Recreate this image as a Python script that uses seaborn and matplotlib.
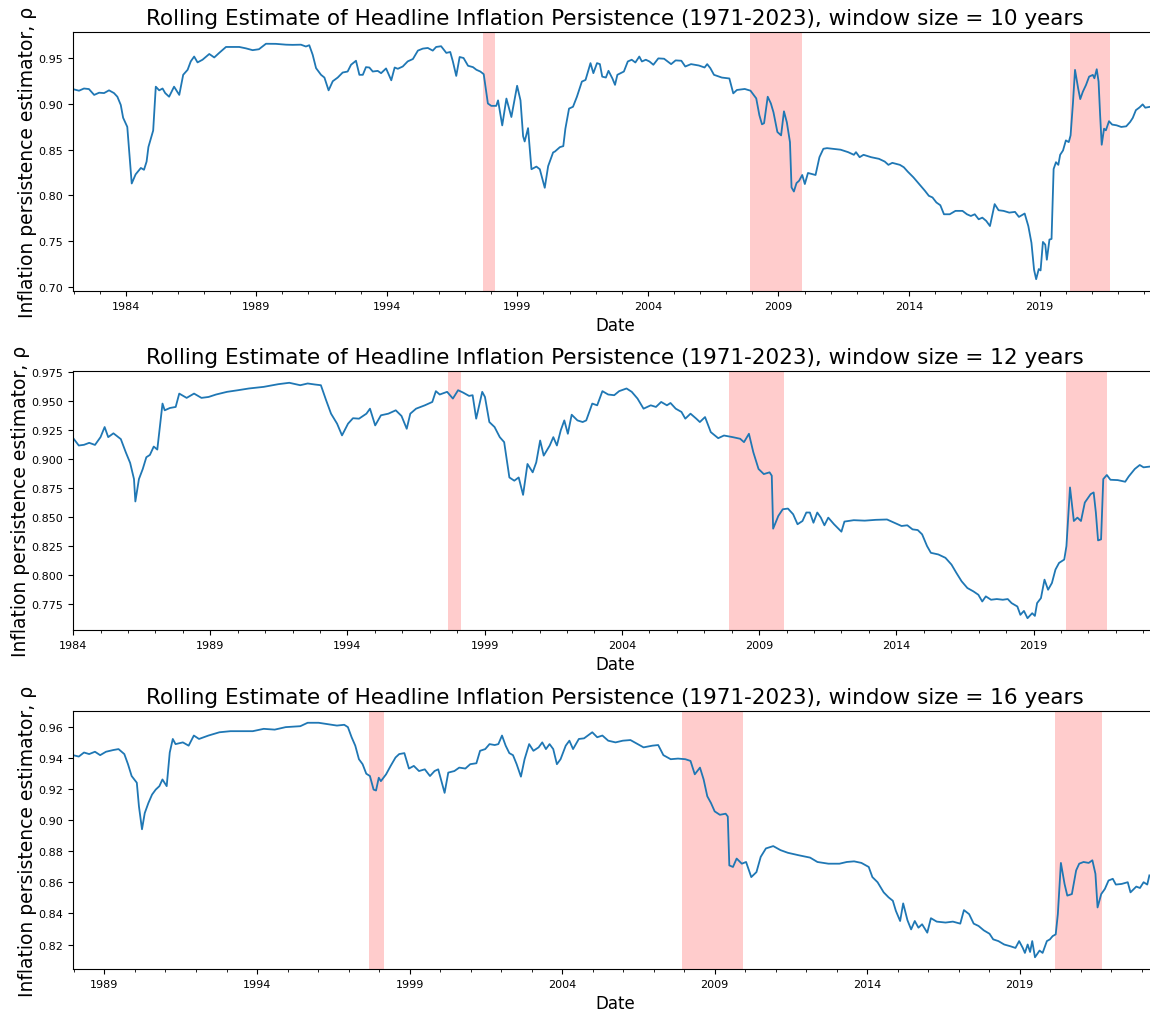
"""
Rolling estimate of headline inflation persistence for three window sizes.
"""

#Libraries
import pandas as pd
import matplotlib
matplotlib.use('Agg')
import matplotlib.pyplot as plt
import matplotlib.dates as mdates
import matplotlib.ticker as mticker
import seaborn as sns

#Global variables.

#Window sizes (years) and the first/last date of each rolling series, as decimal years.
windows = [10, 12, 16]
x_start = [1981.98, 1984.0, 1987.97]
x_end = 2023.5

#Major tick years of each panel.
tick_years = [[1984, 1989, 1994, 1999, 2004, 2009, 2014, 2019],
              [1984, 1989, 1994, 1999, 2004, 2009, 2014, 2019],
              [1989, 1994, 1999, 2004, 2009, 2014, 2019]]

#Shaded periods (decimal years).
rec_start = [1997.67, 2007.92, 2020.17]
rec_end = [1998.15, 2009.92, 2021.69]

#Window = 10 years.
years_10 = [1982.02, 1982.21, 1982.40, 1982.59, 1982.79, 1982.98, 1983.17, 1983.36, 1983.55, 1983.68,
            1983.81, 1983.90, 1984.06, 1984.23, 1984.38, 1984.58, 1984.70, 1984.80, 1984.87, 1985.05,
            1985.15, 1985.28, 1985.41, 1985.51, 1985.66, 1985.85, 1986.05, 1986.20, 1986.37, 1986.49,
            1986.62, 1986.75, 1986.94, 1987.20, 1987.39, 1987.58, 1987.84, 1988.10, 1988.35, 1988.60,
            1988.86, 1989.10, 1989.37, 1989.75, 1990.14, 1990.39, 1990.71, 1990.90, 1991.03, 1991.16,
            1991.29, 1991.48, 1991.61, 1991.77, 1991.93, 1992.12, 1992.31, 1992.50, 1992.63, 1992.82,
            1992.95, 1993.08, 1993.20, 1993.33, 1993.46, 1993.65, 1993.78, 1993.97, 1994.17, 1994.30,
            1994.42, 1994.61, 1994.80, 1995.00, 1995.19, 1995.38, 1995.57, 1995.76, 1995.89, 1996.08,
            1996.28, 1996.43, 1996.53, 1996.66, 1996.79, 1996.94, 1997.11, 1997.30, 1997.43, 1997.58,
            1997.71, 1997.87, 1998.00, 1998.19, 1998.26, 1998.42, 1998.58, 1998.77, 1998.99, 1999.12,
            1999.22, 1999.28, 1999.41, 1999.54, 1999.73, 1999.86, 2000.05, 2000.18, 2000.37, 2000.44,
            2000.63, 2000.76, 2000.84, 2000.98, 2001.13, 2001.28, 2001.47, 2001.61, 2001.80, 2001.91,
            2002.05, 2002.16, 2002.25, 2002.39, 2002.49, 2002.64, 2002.74, 2002.83, 2003.08, 2003.23,
            2003.38, 2003.52, 2003.67, 2003.77, 2003.92, 2004.06, 2004.21, 2004.40, 2004.62, 2004.89,
            2005.06, 2005.28, 2005.43, 2005.65, 2005.95, 2006.17, 2006.27, 2006.39, 2006.53, 2006.83,
            2007.12, 2007.27, 2007.41, 2007.71, 2007.93, 2008.15, 2008.27, 2008.37, 2008.45, 2008.59,
            2008.71, 2008.81, 2008.96, 2009.10, 2009.21, 2009.32, 2009.44, 2009.50, 2009.59, 2009.69,
            2009.79, 2009.91, 2010.01, 2010.13, 2010.42, 2010.57, 2010.72, 2010.86, 2011.09, 2011.38,
            2011.67, 2011.89, 2011.97, 2012.11, 2012.26, 2012.55, 2012.85, 2013.07, 2013.21, 2013.36,
            2013.65, 2013.80, 2013.95, 2014.17, 2014.39, 2014.61, 2014.76, 2014.90, 2015.05, 2015.20,
            2015.34, 2015.56, 2015.78, 2016.05, 2016.22, 2016.37, 2016.52, 2016.67, 2016.81, 2016.96,
            2017.10, 2017.28, 2017.43, 2017.62, 2017.84, 2018.06, 2018.21, 2018.43, 2018.57, 2018.69,
            2018.79, 2018.87, 2018.97, 2019.04, 2019.13, 2019.22, 2019.28, 2019.38, 2019.46, 2019.54,
            2019.63, 2019.72, 2019.79, 2019.90, 2020.01, 2020.12, 2020.19, 2020.28, 2020.36, 2020.48,
            2020.56, 2020.66, 2020.78, 2020.90, 2021.04, 2021.10, 2021.19, 2021.26, 2021.32, 2021.38,
            2021.47, 2021.54, 2021.66, 2021.78, 2021.95, 2022.13, 2022.32, 2022.47, 2022.57, 2022.69,
            2022.83, 2022.95, 2023.05, 2023.24]
rho_10 = [0.916, 0.9146, 0.917, 0.9164, 0.910, 0.9124, 0.912, 0.915, 0.912, 0.908,
          0.899, 0.885, 0.875, 0.813, 0.823, 0.830, 0.828, 0.837, 0.853, 0.871,
          0.919, 0.915, 0.917, 0.912, 0.908, 0.919, 0.910, 0.932, 0.9375, 0.9467,
          0.952, 0.9456, 0.9485, 0.9548, 0.951, 0.956, 0.9625, 0.9625, 0.9625, 0.961,
          0.959, 0.960, 0.966, 0.9659, 0.965, 0.9648, 0.965, 0.963, 0.9644, 0.954,
          0.9393, 0.932, 0.929, 0.915, 0.925, 0.929, 0.9345, 0.9356, 0.943, 0.9474,
          0.932, 0.932, 0.9404, 0.940, 0.9356, 0.9363, 0.9338, 0.939, 0.926, 0.940,
          0.9386, 0.9411, 0.9467, 0.9493, 0.9585, 0.9607, 0.9614, 0.9585, 0.9625, 0.9633,
          0.956, 0.957, 0.9467, 0.9308, 0.9515, 0.9504, 0.9419, 0.9404, 0.9375, 0.9356,
          0.9327, 0.9006, 0.898, 0.898, 0.904, 0.8766, 0.906, 0.8858, 0.920, 0.904,
          0.8648, 0.859, 0.8736, 0.8286, 0.8315, 0.8286, 0.8083, 0.832, 0.847, 0.848,
          0.8528, 0.8539, 0.873, 0.895, 0.897, 0.908, 0.9246, 0.9264, 0.9448, 0.9338,
          0.9448, 0.9437, 0.930, 0.929, 0.9364, 0.928, 0.921, 0.932, 0.9356, 0.9466,
          0.9485, 0.9455, 0.952, 0.9466, 0.9485, 0.9466, 0.943, 0.950, 0.9496, 0.9437,
          0.9478, 0.9474, 0.9411, 0.9437, 0.9422, 0.940, 0.9437, 0.9393, 0.932, 0.929,
          0.928, 0.9117, 0.9154, 0.9165, 0.9146, 0.9062, 0.8878, 0.8778, 0.879, 0.908,
          0.9007, 0.891, 0.8694, 0.8657, 0.892, 0.880, 0.8583, 0.8087, 0.8042, 0.8134,
          0.816, 0.8223, 0.8124, 0.8245, 0.8223, 0.8418, 0.851, 0.8517, 0.851, 0.850,
          0.8473, 0.8444, 0.8473, 0.8418, 0.8444, 0.8418, 0.840, 0.837, 0.8334, 0.8356,
          0.8334, 0.8308, 0.826, 0.8197, 0.8124, 0.805, 0.7995, 0.7977, 0.7922, 0.7892,
          0.7793, 0.7793, 0.783, 0.783, 0.7793, 0.7774, 0.7793, 0.7738, 0.7756, 0.772,
          0.7664, 0.7904, 0.7837, 0.783, 0.7811, 0.7819, 0.7764, 0.7801, 0.7664, 0.748,
          0.7185, 0.7082, 0.7193, 0.7178, 0.749, 0.746, 0.7295, 0.7516, 0.7523, 0.8289,
          0.8363, 0.8334, 0.8444, 0.8492, 0.8602, 0.8583, 0.8657, 0.9007, 0.9374, 0.9171,
          0.9054, 0.9135, 0.9208, 0.930, 0.9319, 0.9282, 0.9381, 0.9246, 0.8878, 0.8554,
          0.873, 0.8712, 0.8812, 0.8775, 0.8767, 0.8749, 0.8756, 0.8804, 0.8848, 0.8933,
          0.8963, 0.8996, 0.896, 0.897]

#Window = 12 years.
years_12 = [1984.00, 1984.21, 1984.40, 1984.59, 1984.80, 1985.00, 1985.15, 1985.28, 1985.47, 1985.74,
            1985.92, 1986.08, 1986.22, 1986.27, 1986.40, 1986.54, 1986.67, 1986.80, 1986.94, 1987.07,
            1987.26, 1987.34, 1987.53, 1987.74, 1987.87, 1988.14, 1988.41, 1988.68, 1988.94, 1989.21,
            1989.61, 1990.01, 1990.41, 1990.95, 1991.48, 1991.88, 1992.28, 1992.55, 1992.82, 1993.03,
            1993.22, 1993.40, 1993.62, 1993.80, 1994.02, 1994.20, 1994.42, 1994.69, 1994.82, 1995.01,
            1995.22, 1995.49, 1995.76, 1995.97, 1996.16, 1996.29, 1996.50, 1996.82, 1997.09, 1997.22,
            1997.36, 1997.63, 1997.84, 1998.03, 1998.21, 1998.43, 1998.56, 1998.69, 1998.91, 1999.01,
            1999.17, 1999.36, 1999.55, 1999.71, 1999.90, 2000.08, 2000.24, 2000.40, 2000.56, 2000.75,
            2000.88, 2001.02, 2001.15, 2001.37, 2001.50, 2001.63, 2001.77, 2001.90, 2002.03, 2002.17,
            2002.38, 2002.57, 2002.70, 2002.92, 2003.10, 2003.29, 2003.50, 2003.72, 2003.90, 2004.17,
            2004.36, 2004.57, 2004.79, 2005.05, 2005.24, 2005.43, 2005.64, 2005.77, 2005.96, 2006.17,
            2006.31, 2006.50, 2006.71, 2006.84, 2007.03, 2007.24, 2007.51, 2007.72, 2008.04, 2008.31,
            2008.45, 2008.63, 2008.79, 2008.98, 2009.17, 2009.38, 2009.46, 2009.51, 2009.70, 2009.86,
            2010.05, 2010.24, 2010.40, 2010.58, 2010.72, 2010.85, 2010.98, 2011.12, 2011.25, 2011.38,
            2011.52, 2011.73, 2012.00, 2012.11, 2012.45, 2012.85, 2013.25, 2013.66, 2013.92, 2014.19,
            2014.40, 2014.59, 2014.78, 2014.94, 2015.12, 2015.26, 2015.53, 2015.79, 2016.01, 2016.19,
            2016.38, 2016.59, 2016.81, 2016.99, 2017.13, 2017.26, 2017.45, 2017.66, 2017.88, 2018.06,
            2018.20, 2018.41, 2018.52, 2018.65, 2018.78, 2018.95, 2019.05, 2019.13, 2019.27, 2019.40,
            2019.53, 2019.67, 2019.80, 2019.93, 2020.12, 2020.20, 2020.33, 2020.47, 2020.60, 2020.73,
            2020.87, 2021.08, 2021.19, 2021.27, 2021.35, 2021.46, 2021.54, 2021.67, 2021.80, 2022.07,
            2022.34, 2022.47, 2022.69, 2022.87, 2023.01, 2023.22]
rho_12 = [0.918, 0.9115, 0.9121, 0.9138, 0.912, 0.9187, 0.9274, 0.9187, 0.922, 0.917,
          0.9057, 0.8965, 0.8826, 0.8633, 0.8826, 0.8913, 0.9014, 0.9034, 0.9106, 0.908,
          0.9476, 0.9418, 0.9438, 0.9447, 0.9562, 0.9525, 0.9562, 0.9525, 0.9533, 0.9554,
          0.9577, 0.9591, 0.9606, 0.962, 0.9643, 0.9655, 0.9634, 0.9649, 0.964, 0.9634,
          0.9505, 0.9389, 0.9303, 0.9202, 0.9303, 0.935, 0.9346, 0.9389, 0.9432, 0.9288,
          0.9375, 0.9389, 0.9418, 0.9369, 0.9259, 0.9389, 0.9432, 0.9461, 0.949, 0.9583,
          0.9554, 0.9577, 0.9519, 0.9591, 0.9571, 0.9542, 0.9548, 0.9346, 0.9577, 0.9533,
          0.9317, 0.9274, 0.9187, 0.9144, 0.884, 0.8812, 0.884, 0.869, 0.8956, 0.8884,
          0.897, 0.9158, 0.9028, 0.9115, 0.9187, 0.9115, 0.9245, 0.9331, 0.9216, 0.9380,
          0.9331, 0.9317, 0.9331, 0.9476, 0.9461, 0.9583, 0.9554, 0.9548, 0.9583, 0.9606,
          0.9577, 0.9519, 0.9432, 0.9461, 0.9447, 0.949, 0.9461, 0.9481, 0.9432, 0.9404,
          0.9346, 0.9389, 0.9346, 0.9317, 0.936, 0.923, 0.9178, 0.9201, 0.9187, 0.9173,
          0.9144, 0.9216, 0.9057, 0.8913, 0.8869, 0.8884, 0.8855, 0.8399, 0.8509, 0.8566,
          0.8572, 0.8523, 0.8437, 0.8465, 0.8538, 0.8538, 0.845, 0.8538, 0.8494, 0.8428,
          0.8494, 0.8437, 0.8373, 0.846, 0.8472, 0.8468, 0.8475, 0.8478, 0.845, 0.8422,
          0.8428, 0.8393, 0.8387, 0.835, 0.8249, 0.8191, 0.8177, 0.8148, 0.809, 0.8018,
          0.7946, 0.7888, 0.7859, 0.783, 0.7772, 0.7816, 0.7787, 0.7793, 0.7787, 0.7793,
          0.7758, 0.7729, 0.7657, 0.7691, 0.7628, 0.7671, 0.7648, 0.7758, 0.7801, 0.796,
          0.7873, 0.7931, 0.8047, 0.8104, 0.8133, 0.8249, 0.8754, 0.8465, 0.8494, 0.8465,
          0.8624, 0.8696, 0.8711, 0.8538, 0.8298, 0.8307, 0.8826, 0.8861, 0.882, 0.8817,
          0.8803, 0.8849, 0.8913, 0.8947, 0.8927, 0.8933]

#Window = 16 years.
years_16 = [1987.97, 1988.16, 1988.33, 1988.50, 1988.69, 1988.86, 1989.05, 1989.29, 1989.46, 1989.65,
            1989.77, 1989.89, 1990.06, 1990.13, 1990.23, 1990.32, 1990.44, 1990.56, 1990.68, 1990.80,
            1990.90, 1991.04, 1991.14, 1991.24, 1991.33, 1991.57, 1991.76, 1991.93, 1992.10, 1992.41,
            1992.77, 1993.13, 1993.50, 1993.86, 1994.22, 1994.58, 1994.94, 1995.42, 1995.66, 1996.02,
            1996.38, 1996.62, 1996.86, 1996.98, 1997.10, 1997.22, 1997.34, 1997.46, 1997.58, 1997.70,
            1997.82, 1997.90, 1997.99, 1998.06, 1998.23, 1998.38, 1998.54, 1998.66, 1998.83, 1998.98,
            1999.14, 1999.31, 1999.50, 1999.67, 1999.82, 1999.94, 2000.06, 2000.15, 2000.27, 2000.47,
            2000.63, 2000.83, 2000.99, 2001.19, 2001.31, 2001.48, 2001.62, 2001.79, 2001.91, 2002.03,
            2002.15, 2002.27, 2002.39, 2002.51, 2002.65, 2002.77, 2002.92, 2003.06, 2003.23, 2003.35,
            2003.47, 2003.59, 2003.71, 2003.83, 2003.95, 2004.12, 2004.24, 2004.36, 2004.55, 2004.72,
            2004.99, 2005.15, 2005.32, 2005.51, 2005.75, 2005.99, 2006.24, 2006.48, 2006.67, 2006.96,
            2007.15, 2007.32, 2007.56, 2007.80, 2008.04, 2008.21, 2008.35, 2008.52, 2008.64, 2008.76,
            2008.88, 2009.00, 2009.17, 2009.36, 2009.43, 2009.48, 2009.60, 2009.72, 2009.89, 2010.03,
            2010.20, 2010.37, 2010.51, 2010.68, 2010.92, 2011.16, 2011.40, 2011.76, 2012.13, 2012.37,
            2012.73, 2013.09, 2013.33, 2013.57, 2013.81, 2014.05, 2014.17, 2014.34, 2014.54, 2014.70,
            2014.84, 2014.94, 2015.08, 2015.18, 2015.32, 2015.44, 2015.56, 2015.68, 2015.80, 2015.97,
            2016.09, 2016.28, 2016.57, 2016.81, 2017.05, 2017.17, 2017.34, 2017.49, 2017.65, 2017.82,
            2018.01, 2018.13, 2018.30, 2018.49, 2018.69, 2018.86, 2018.98, 2019.10, 2019.17, 2019.26,
            2019.34, 2019.41, 2019.50, 2019.65, 2019.75, 2019.89, 2019.99, 2020.08, 2020.18, 2020.25,
            2020.35, 2020.47, 2020.56, 2020.71, 2020.85, 2020.95, 2021.09, 2021.26, 2021.38, 2021.48,
            2021.55, 2021.67, 2021.79, 2021.91, 2022.05, 2022.15, 2022.34, 2022.54, 2022.63, 2022.82,
            2022.94, 2023.06, 2023.18, 2023.25]
rho_16 = [0.9416, 0.9407, 0.9433, 0.9423, 0.9438, 0.9416, 0.9438, 0.9449, 0.9455, 0.9423,
          0.9358, 0.9282, 0.9239, 0.9087, 0.894, 0.9044, 0.9109, 0.9163, 0.9195, 0.9217,
          0.926, 0.9217, 0.9433, 0.952, 0.9487, 0.9498, 0.9477, 0.9542, 0.952, 0.9542,
          0.9563, 0.957, 0.957, 0.957, 0.9585, 0.958, 0.9596, 0.9602, 0.9624, 0.9624,
          0.9613, 0.9606, 0.9611, 0.9596, 0.9531, 0.9477, 0.939, 0.9358, 0.9297, 0.9282,
          0.9195, 0.9189, 0.9271, 0.9249, 0.9293, 0.9347, 0.9401, 0.9423, 0.9429, 0.933,
          0.9347, 0.9314, 0.9325, 0.9282, 0.9314, 0.9325, 0.9239, 0.9174, 0.9304, 0.9314,
          0.9336, 0.933, 0.9358, 0.9364, 0.9444, 0.9455, 0.9487, 0.9481, 0.9487, 0.9542,
          0.9477, 0.9429, 0.9416, 0.9358, 0.9278, 0.939, 0.9487, 0.9444, 0.9466, 0.9498,
          0.9455, 0.9487, 0.9455, 0.9358, 0.939, 0.9477, 0.9509, 0.9455, 0.952, 0.9524,
          0.9563, 0.9531, 0.9542, 0.9509, 0.9498, 0.9509, 0.9513, 0.9487, 0.9466, 0.9477,
          0.9481, 0.9416, 0.939, 0.9394, 0.939, 0.9379, 0.9293, 0.9336, 0.926, 0.9152,
          0.9109, 0.9055, 0.9033, 0.904, 0.9022, 0.8708, 0.8698, 0.8752, 0.8719, 0.873,
          0.8633, 0.8665, 0.8763, 0.8817, 0.8832, 0.8806, 0.8789, 0.8773, 0.8758, 0.873,
          0.8719, 0.8719, 0.873, 0.8734, 0.8724, 0.8698, 0.8633, 0.86, 0.8535, 0.8503,
          0.8481, 0.8416, 0.8351, 0.8464, 0.8356, 0.8297, 0.8351, 0.8308, 0.833, 0.8276,
          0.8369, 0.8347, 0.8341, 0.8347, 0.8334, 0.8421, 0.8395, 0.8334, 0.8319, 0.8291,
          0.8269, 0.8233, 0.8222, 0.82, 0.8189, 0.8178, 0.8222, 0.8178, 0.8146, 0.82,
          0.8152, 0.8222, 0.8118, 0.8161, 0.8146, 0.8222, 0.8233, 0.8254, 0.8265, 0.8395,
          0.8724, 0.8589, 0.8514, 0.8524, 0.8676, 0.8719, 0.873, 0.8724, 0.8741, 0.8654,
          0.8438, 0.8524, 0.8557, 0.8611, 0.8622, 0.8585, 0.8589, 0.86, 0.8535, 0.8572,
          0.8563, 0.86, 0.8585, 0.8644]


#Functions

#Convert a decimal year to a timestamp.
def To_Date(param_year):
    year = int(param_year)
    return pd.Timestamp(year=year, month=1, day=1) + pd.Timedelta(days=(param_year - year) * 365.25)


#Draw one rolling-estimate panel.
def Plot_Persistence(param_ax, param_years, param_rho, param_window, param_start, param_ticks):
    df = pd.DataFrame({'Date': [To_Date(y) for y in param_years], 'rho': param_rho})
    sns.lineplot(data=df, x='Date', y='rho', ax=param_ax, color='#1f77b4', linewidth=1.3, estimator=None)

    for s, e in zip(rec_start, rec_end):
        param_ax.axvspan(To_Date(s), To_Date(e), color='red', alpha=0.2, linewidth=0)

    param_ax.set_xlim(To_Date(param_start), To_Date(x_end))
    param_ax.xaxis.set_major_locator(mticker.FixedLocator(mdates.date2num([To_Date(y) for y in param_ticks])))
    param_ax.xaxis.set_minor_locator(mdates.YearLocator(1))
    param_ax.xaxis.set_major_formatter(mdates.DateFormatter('%Y'))
    param_ax.tick_params(axis='both', which='major', labelsize=8)

    param_ax.set_title(f'Rolling Estimate of Headline Inflation Persistence (1971-2023), window size = {param_window} years', fontsize=15.5)
    param_ax.set_xlabel('Date', fontsize=12)
    param_ax.set_ylabel('Inflation persistence estimator, ρ', fontsize=13.5, labelpad=1)


fig = plt.figure(figsize=(11.5, 10.12), dpi=100)

#Axes boxes in figure fractions (left, bottom, width, height).
boxes = [[0.0635, 0.7115, 0.9426, 0.2559],
         [0.0635, 0.3765, 0.9426, 0.2559],
         [0.0635, 0.0415, 0.9426, 0.2549]]

all_years = [years_10, years_12, years_16]
all_rho = [rho_10, rho_12, rho_16]

for i in range(3):
    ax = fig.add_axes(boxes[i])
    Plot_Persistence(ax, all_years[i], all_rho[i], windows[i], x_start[i], tick_years[i])

fig.savefig('out.png', dpi=100)
